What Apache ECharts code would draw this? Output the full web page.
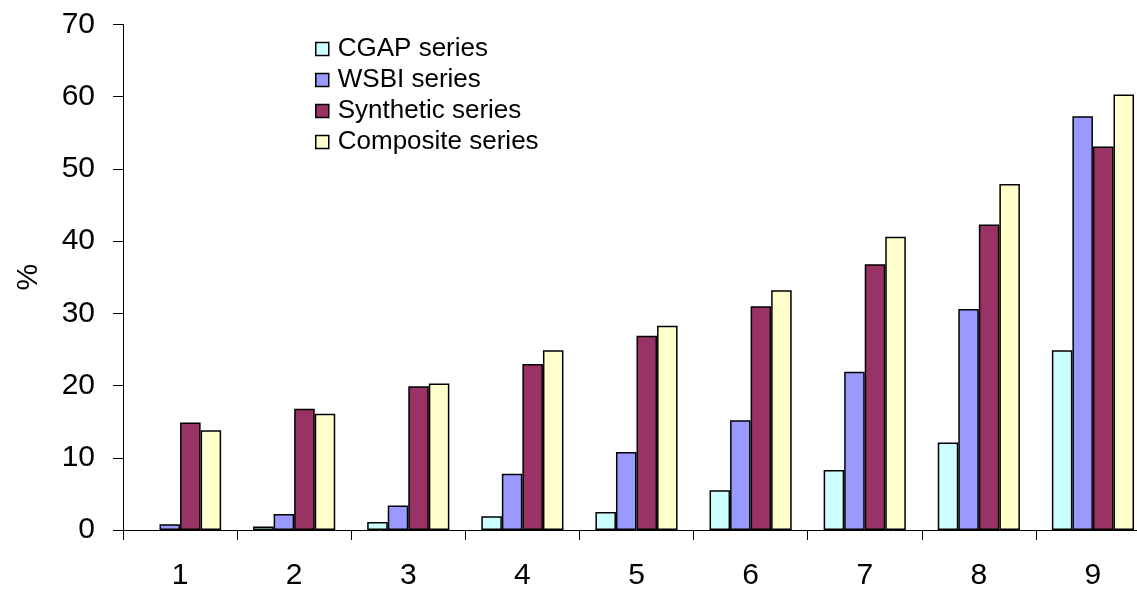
<!DOCTYPE html>
<html>
<head>
<meta charset="utf-8">
<script src="https://cdn.jsdelivr.net/npm/echarts@6/dist/echarts.min.js"></script>
<style>
  html, body { margin: 0; padding: 0; background: #ffffff; overflow: hidden; }
  /* drawing surface is a little wider than the window; the last group runs to the edge */
  #chart { width: 1150px; height: 591px; }
</style>
</head>
<body>
<div id="chart"></div>
<script>
// Categories along the x axis
const categories = ['1', '2', '3', '4', '5', '6', '7', '8', '9'];

// Percentages for each series (null = no bar)
const cgapSeries      = [null, 0.5, 1.1, 1.9, 2.5, 5.5, 8.3, 12.1, 24.9];
const wsbiSeries      = [0.8, 2.2, 3.4, 7.8, 10.8, 15.2, 21.9, 30.6, 57.3];
const syntheticSeries = [14.9, 16.8, 19.9, 23.0, 26.9, 31.0, 36.8, 42.3, 53.1];
const compositeSeries = [13.8, 16.1, 20.3, 24.9, 28.3, 33.2, 40.6, 47.9, 60.3];

const seriesNames = ['CGAP series', 'WSBI series', 'Synthetic series', 'Composite series'];
const seriesColors = ['#CCFFFF', '#9999FF', '#993366', '#FFFFCC'];
const seriesData = [cgapSeries, wsbiSeries, syntheticSeries, compositeSeries];

const FONT = '"Liberation Sans", Arial, Helvetica, sans-serif';

const chart = echarts.init(document.getElementById('chart'), null, { renderer: 'canvas' });

chart.setOption({
  animation: false,
  backgroundColor: '#ffffff',
  textStyle: { fontFamily: FONT, color: '#000' },
  grid: { left: 123, right: 0, top: 24.5, bottom: 60.5, containLabel: false },
  legend: {
    orient: 'vertical',
    left: 310,
    top: 31,
    itemWidth: 13,
    itemHeight: 13,
    itemGap: 5,
    icon: 'rect',
    itemStyle: { borderColor: '#000', borderWidth: 1.5 },
    textStyle: { fontFamily: FONT, fontSize: 26, color: '#000', padding: [0, 0, 0, 4] },
    data: seriesNames
  },
  xAxis: {
    type: 'category',
    data: categories,
    boundaryGap: true,
    axisLine: { show: true, lineStyle: { color: '#000', width: 1 } },
    axisTick: { show: true, alignWithLabel: false, length: 10, lineStyle: { color: '#000' } },
    axisLabel: { fontFamily: FONT, fontSize: 30, color: '#000', margin: 31 },
    splitLine: { show: false }
  },
  yAxis: {
    type: 'value',
    min: 0,
    max: 70,
    interval: 10,
    name: '%',
    nameLocation: 'middle',
    nameRotate: 90,
    nameGap: 79,
    nameTextStyle: { fontFamily: FONT, fontSize: 30, color: '#000' },
    axisLine: { show: true, lineStyle: { color: '#000', width: 1 } },
    axisTick: { show: true, length: 10, lineStyle: { color: '#000' } },
    axisLabel: { fontFamily: FONT, fontSize: 30, color: '#000', margin: 28 },
    splitLine: { show: false }
  },
  series: seriesNames.map((name, i) => ({
    name: name,
    type: 'bar',
    data: seriesData[i],
    barGap: '0%',
    barCategoryGap: '28%',
    itemStyle: { color: seriesColors[i], borderColor: '#000', borderWidth: 1.5 },
    emphasis: { disabled: true }
  }))
});
</script>
</body>
</html>
